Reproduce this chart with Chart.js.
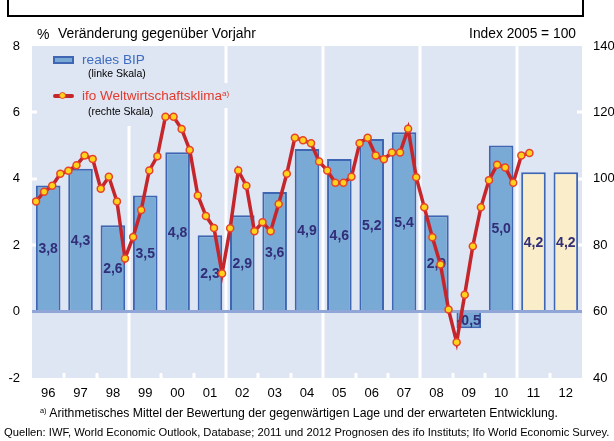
<!DOCTYPE html>
<html><head><meta charset="utf-8">
<script src="https://cdn.jsdelivr.net/npm/chart.js@4/dist/chart.umd.min.js"></script>
<style>
html,body{margin:0;padding:0;background:#fff;}
body{width:614px;height:441px;overflow:hidden;position:relative;font-family:"Liberation Sans",Arial,sans-serif;}
#c{position:absolute;left:0;top:0;}
.t{position:absolute;white-space:nowrap;line-height:1;transform:translateY(-50%);color:#000;}
.box{position:absolute;left:7px;top:-10px;width:573px;height:23px;border:2px solid #000;}
sup{font-size:60%;vertical-align:0;position:relative;top:-0.55em;}
.icoBar{position:absolute;left:53px;top:56px;width:17px;height:4px;background:#79a9d5;border:2px solid #3e66b3;}
.icoLine{position:absolute;left:53px;top:94px;width:21px;height:4px;background:#c5262b;border-radius:2px;}
.icoDot{position:absolute;left:59px;top:92px;width:5px;height:5px;background:#ffd31c;border:1.5px solid #e6432b;border-radius:50%;}
</style></head><body>
<canvas id="c" width="614" height="441"></canvas>
<div class="box"></div>
<div class="t" style="left:37px;top:34px;font-size:14px;">%</div>
<div class="t" data-w="198" style="left:58px;top:34px;font-size:14px;">Veränderung gegenüber Vorjahr</div>
<div class="t" data-w="107" data-r="576" style="left:469px;top:34px;font-size:14px;">Index 2005 = 100</div>
<div class="icoBar"></div>
<div class="t" data-w="63" style="left:82px;top:60px;font-size:14px;color:#3d6cc0;">reales BIP</div>
<div class="t" style="left:88px;top:73px;font-size:10.5px;">(linke Skala)</div>
<div class="icoLine"></div><div class="icoDot"></div>
<div class="t" style="left:82px;top:96px;font-size:13.5px;color:#e23a2c;">ifo Weltwirtschaftsklima<sup>a)</sup></div>
<div class="t" style="left:88px;top:111px;font-size:10.5px;">(rechte Skala)</div>
<div class="t" data-w="518" style="left:40px;top:413px;font-size:11px;"><sup>a)</sup> Arithmetisches Mittel der Bewertung der gegenwärtigen Lage und der erwarteten Entwicklung.</div>
<div class="t" data-w="606" style="left:4px;top:433px;font-size:11px;">Quellen: IWF, World Economic Outlook, Database; 2011 und 2012 Prognosen des ifo Instituts; Ifo World Economic Survey.</div>
<script>
// ---- data ----
const years = ['96','97','98','99','00','01','02','03','04','05','06','07','08','09','10','11','12'];
const gdpGrowth = [3.8,4.3,2.6,3.5,4.8,2.3,2.9,3.6,4.9,4.6,5.2,5.4,2.9,-0.5,5.0,4.2,4.2];
const forecastYears = ['11','12'];
// ifo Weltwirtschaftsklima, quarterly from 1996 Q1 (index 2005 = 100)
const ifoClimate = [
  93.2, 96.1, 97.9,101.5,   // 96
 102.4,104.1,107.0,106.0,   // 97
  97.0,100.6, 93.2, 76.0,   // 98
  82.5, 90.6,102.5,106.8,   // 99
 118.7,118.7,115.0,108.7,   // 00
  95.0, 88.8, 85.2, 71.5,   // 01
  85.1,102.5, 97.9, 84.2,   // 02
  86.9, 84.2, 92.4,101.5,   // 03
 112.4,111.6,110.7,105.2,   // 04
 102.5, 98.8, 98.8,100.6,   // 05
 110.7,112.4,107.0,105.9,   // 06
 107.9,107.9,115.1,100.5,   // 07
  91.4, 82.4, 74.2, 60.6,   // 08
  50.8, 65.1, 79.7, 91.4,   // 09
  99.6,104.2,103.4, 98.8,   // 10
 107.0,107.8                // 11
];
const leftTicks = [-2,0,2,4,6,8];
const rightTicks = [40,60,80,100,120,140];

// ---- style ----
const C = {panel:'#dfe6f3', zero:'#8fa6d6', barFill:'#79a9d5', barFc:'#f9eec9', barBorder:'#3e66b3',
  label:'#312d78', line:'#c5262b', ptFill:'#ffd31c', ptBorder:'#e6432b'};
const FONT = '"Liberation Sans", Arial, sans-serif';

// fit text widths
document.querySelectorAll('[data-w]').forEach(el=>{
  const w = el.getBoundingClientRect().width;
  const fs = parseFloat(el.style.fontSize);
  el.style.fontSize = (fs * (+el.dataset.w) / w).toFixed(2) + 'px';
  if (el.dataset.r) { const w2 = el.getBoundingClientRect().width; el.style.left = (+el.dataset.r - w2) + 'px'; }
});

const deco = {
  id:'deco',
  beforeDatasetsDraw(chart){
    const {ctx, chartArea:a, scales} = chart;
    const x = scales.x, y = scales.y, yR = scales.yR;
    ctx.save();
    ctx.fillStyle = C.panel;
    ctx.fillRect(a.left, a.top, a.right-a.left, a.bottom-a.top);
    ctx.fillStyle = '#fff';
    for (let b=1; b<years.length; b++){
      const px = Math.round(x.getPixelForValue(b-0.5));
      if (b%3===0){
        let segs = [[a.top,a.bottom]];
        if (b===3) segs = [[126,a.bottom]];
        if (b===6) segs = [[a.top,83],[108,a.bottom]];
        segs.forEach(([t,bt])=>ctx.fillRect(px-1.5, t, 3, bt-t));
      } else {
        ctx.fillRect(px-1.5, a.bottom-5, 3, 5);
      }
    }
    [2,4,6].forEach(v=>{ const py=Math.round(y.getPixelForValue(v)); ctx.fillRect(a.left, py-1.5, 5, 3); });
    [80,100,120].forEach(v=>{ const py=Math.round(yR.getPixelForValue(v)); ctx.fillRect(a.right-5, py-1.5, 5, 3); });
    ctx.restore();
  },
  afterDatasetDraw(chart, args){
    if (args.index!==0) return;
    const {ctx, chartArea:a, scales} = chart;
    const y0 = scales.y.getPixelForValue(0);
    ctx.save();
    ctx.strokeStyle = C.zero; ctx.lineWidth = 3;
    ctx.beginPath(); ctx.moveTo(a.left,y0); ctx.lineTo(a.right,y0); ctx.stroke();
    ctx.fillStyle = C.label; ctx.font = 'bold 14px ' + FONT;
    ctx.textAlign = 'center'; ctx.textBaseline = 'middle';
    args.meta.data.forEach((el,i)=>{
      ctx.fillText(gdpGrowth[i].toFixed(1).replace('.',','), el.x, (el.y+el.base)/2 + 1);
    });
    ctx.restore();
  }
};

new Chart(document.getElementById('c'), {
  type:'line',
  data:{
    datasets:[
      { type:'bar', yAxisID:'y', order:1,
        data: gdpGrowth.map((v,i)=>({x:i, y:v})),
        backgroundColor: years.map(yr => forecastYears.includes(yr) ? C.barFc : C.barFill),
        borderColor: C.barBorder, borderWidth: 2,
        categoryPercentage: 1, barPercentage: 0.76 },
      { type:'line', yAxisID:'yR', order:0,
        data: ifoClimate.map((v,i)=>({x: Math.floor(i/4) + ((i%4) - 1.5)/4, y: v})),
        borderColor: C.line, borderWidth: 3.5, tension: 0,
        pointRadius: 3.5, pointBackgroundColor: C.ptFill, pointBorderColor: C.ptBorder, pointBorderWidth: 1.5 }
    ]
  },
  options:{
    responsive:false, animation:false, events:[],
    layout:{padding:{top:46, left:0, right:0, bottom:0}},
    plugins:{legend:{display:false}, tooltip:{enabled:false}},
    scales:{
      x:{ type:'linear', min:-0.5, max:16.5, offset:false,
          grid:{display:false, drawTicks:false}, border:{display:false},
          afterBuildTicks(s){ s.ticks = years.map((_,i)=>({value:i})); },
          ticks:{font:{size:13, family:FONT}, color:'#000', padding:8, maxRotation:0, autoSkip:false,
                 callback:(v,i)=>years[i]},
          afterFit(s){ s.height = 63; } },
      y:{ position:'left', min:-2, max:8, grid:{display:false, drawTicks:false}, border:{display:false},
          afterBuildTicks(s){ s.ticks = leftTicks.map(v=>({value:v})); },
          ticks:{font:{size:13, family:FONT}, color:'#000', padding:12, callback:v=>String(v)},
          afterFit(s){ s.width = 32; } },
      yR:{ position:'right', min:40, max:140, grid:{display:false, drawTicks:false}, border:{display:false},
          afterBuildTicks(s){ s.ticks = rightTicks.map(v=>({value:v})); },
          ticks:{font:{size:13, family:FONT}, color:'#000', padding:11, callback:v=>String(v)},
          afterFit(s){ s.width = 32; } }
    }
  },
  plugins:[deco]
});
</script>
</body></html>
